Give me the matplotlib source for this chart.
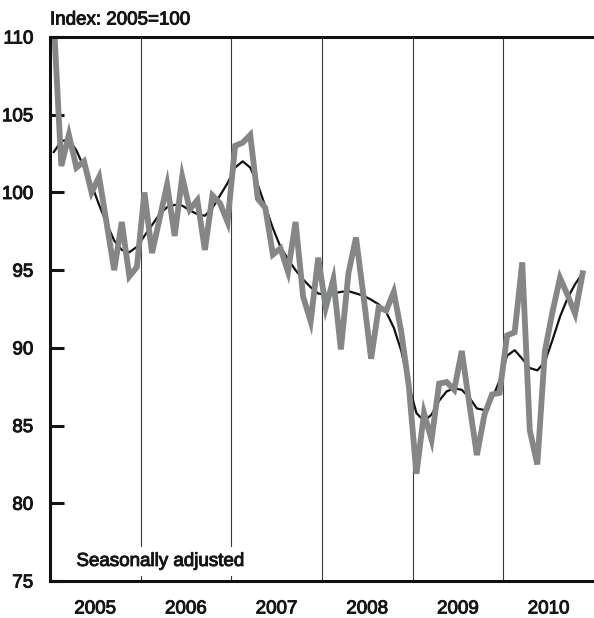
import numpy as np
import matplotlib
matplotlib.use("Agg")
import matplotlib.pyplot as plt
import matplotlib.patheffects as pe

plt.rcParams['font.family'] = ['Liberation Sans', 'DejaVu Sans']

years = ['2005', '2006', '2007', '2008', '2009', '2010']
y_ticks = [75, 80, 85, 90, 95, 100, 105, 110]

# monthly index, Jan 2005 - Nov 2010
monthly = [111.0, 101.7, 103.7, 101.6, 102.0, 100.0, 101.0, 98.0, 95.0, 98.1, 94.6, 95.2,
           100.0, 96.1, 98.3, 100.5, 97.2, 101.0, 98.9, 99.5, 96.3, 99.8, 99.3, 98.1,
           103.0, 103.2, 103.7, 99.6, 99.0, 96.0, 96.4, 94.9, 98.1, 93.3, 91.7, 95.8,
           92.6, 94.4, 89.9, 94.8, 97.1, 93.3, 89.3, 92.6, 92.4, 93.6, 91.0, 87.5,
           81.9, 85.8, 84.1, 87.7, 87.8, 87.3, 89.8, 86.4, 83.1, 85.7, 87.0, 87.1,
           90.8, 91.0, 95.5, 84.7, 82.5, 89.8, 92.3, 94.5, 93.4, 92.2, 94.8]

trend = [102.6, 103.3, 103.4, 102.7, 101.6, 100.5, 99.2, 98.0, 96.9, 96.3, 96.15, 96.5,
         97.2, 97.9, 98.6, 99.05, 99.2, 99.15, 98.85, 98.6, 98.5, 99.0, 99.8, 100.6,
         101.6, 102.0, 101.6, 100.5, 99.1, 97.7, 96.5, 95.7, 95.0, 94.4, 93.9, 93.5,
         93.4, 93.5, 93.6, 93.65, 93.5, 93.35, 93.1, 92.8, 92.3, 91.3, 89.8, 87.6,
         85.8, 85.3, 85.7, 86.6, 87.2, 87.4, 87.3, 86.8, 86.1, 86.0, 86.7, 87.9,
         89.5, 89.85, 89.3, 88.7, 88.55, 89.1, 90.5, 92.0, 93.2, 94.1, 94.8]

x = np.arange(len(monthly)) + 0.5

TXT = '#151515'
FS = 13.5
heavy = [pe.withStroke(linewidth=0.7, foreground=TXT)]

fig = plt.figure(figsize=(5.94, 6.18), dpi=100)
ax = fig.add_axes([50/594, 1 - 581/618, 1 - 50/594, 544/618])

for k in range(1, len(years)):
    ax.axvline(12 * k, color='#3a3a3a', lw=0.8, zorder=1)

ax.plot(x, trend, color='#111111', lw=1.6, zorder=3, solid_joinstyle='round')
ax.plot(x, monthly, color='#858688', lw=4.2, zorder=4, solid_joinstyle='miter')

ax.set_xlim(0, 72)
ax.set_ylim(75, 110)

for s in ['left', 'bottom', 'top']:
    ax.spines[s].set_linewidth(2.2)
    ax.spines[s].set_color('#111111')
    ax.spines[s].set_zorder(6)
ax.spines['right'].set_visible(False)

ax.set_yticks(y_ticks)
ax.set_yticklabels([str(v) for v in y_ticks])
ax.tick_params(axis='y', direction='in', length=10, width=2.2, pad=12,
               labelsize=FS, colors=TXT)

ax.set_xticks([12 * k + 6 for k in range(len(years))])
ax.set_xticklabels(years)
ax.tick_params(axis='x', length=0, pad=14, labelsize=FS, colors=TXT)

for lab in ax.get_xticklabels() + ax.get_yticklabels():
    lab.set_path_effects(heavy)

fig.text(50/594, 1 - 24.5/618, 'Index: 2005=100', ha='left', va='baseline',
         fontsize=FS, color=TXT, path_effects=heavy)

ax.text(3.5, 75.97, 'Seasonally adjusted', ha='left', va='baseline', fontsize=FS,
        color=TXT, zorder=5, path_effects=heavy,
        bbox=dict(facecolor='white', edgecolor='none', pad=4))

fig.savefig('out.png', dpi=100)
